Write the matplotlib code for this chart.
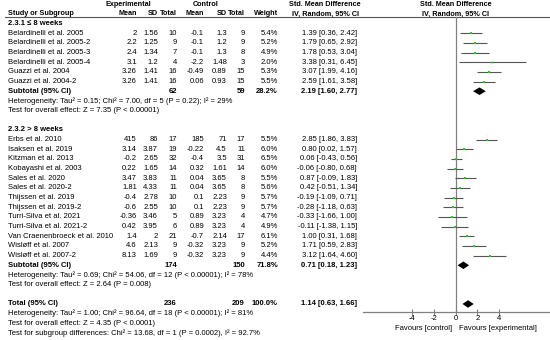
import matplotlib.pyplot as plt
from matplotlib.patches import Polygon

plt.rcParams["font.family"] = ["Liberation Sans", "DejaVu Sans"]
FS = 5.5
FS_HEAD = 5.2

# subgroup 1: <= 8 weeks
g1_names = ["Belardinelli et al. 2005", "Belardinelli et al. 2005-2", "Belardinelli et al. 2005-3",
            "Belardinelli et al. 2005-4", "Guazzi et al. 2004", "Guazzi et al. 2004-2"]
g1_exp_mean = ["2", "2.2", "2.4", "3.1", "3.26", "3.26"]
g1_exp_sd = ["1.56", "1.25", "1.34", "1.2", "1.41", "1.41"]
g1_exp_n = [10, 9, 7, 4, 16, 16]
g1_ctl_mean = ["-0.1", "-0.1", "-0.1", "-2.2", "-0.49", "0.06"]
g1_ctl_sd = ["1.3", "1.2", "1.3", "1.48", "0.89", "0.93"]
g1_ctl_n = [9, 9, 8, 3, 15, 15]
g1_weight = [5.4, 5.2, 4.9, 2.0, 5.3, 5.5]
g1_smd = [1.39, 1.79, 1.78, 3.38, 3.07, 2.59]
g1_lo = [0.36, 0.65, 0.53, 0.31, 1.99, 1.61]
g1_hi = [2.42, 2.92, 3.04, 6.45, 4.16, 3.58]

# subgroup 2: > 8 weeks
g2_names = ["Erbs et al. 2010", "Isaksen et al. 2019", "Kitzman et al. 2013", "Kobayashi et al. 2003",
            "Sales et al. 2020", "Sales et al. 2020-2", "Thijssen et al. 2019", "Thijssen et al. 2019-2",
            "Turri-Silva et al. 2021", "Turri-Silva et al. 2021-2", "Van Craenenbroeck et al. 2010",
            "Wisløff et al. 2007", "Wisløff et al. 2007-2"]
g2_exp_mean = ["415", "3.14", "-0.2", "0.22", "3.47", "1.81", "-0.4", "-0.6", "-0.36", "0.42", "1.4", "4.6", "8.13"]
g2_exp_sd = ["86", "3.87", "2.65", "1.65", "3.83", "4.33", "2.78", "2.55", "3.46", "3.95", "2", "2.13", "1.69"]
g2_exp_n = [17, 19, 32, 14, 11, 11, 10, 10, 5, 6, 21, 9, 9]
g2_ctl_mean = ["185", "-0.22", "-0.4", "0.32", "0.04", "0.04", "0.1", "0.1", "0.89", "0.89", "-0.7", "-0.32", "-0.32"]
g2_ctl_sd = ["71", "4.5", "3.5", "1.61", "3.65", "3.65", "2.23", "2.23", "3.23", "3.23", "2.14", "3.23", "3.23"]
g2_ctl_n = [17, 11, 31, 14, 8, 8, 9, 9, 4, 4, 17, 9, 9]
g2_weight = [5.5, 6.0, 6.5, 6.0, 5.5, 5.6, 5.7, 5.7, 4.7, 4.9, 6.1, 5.2, 4.4]
g2_smd = [2.85, 0.80, 0.06, -0.06, 0.87, 0.42, -0.19, -0.28, -0.33, -0.11, 1.00, 1.71, 3.12]
g2_lo = [1.86, 0.02, -0.43, -0.80, -0.09, -0.51, -1.09, -1.18, -1.66, -1.38, 0.31, 0.59, 1.64]
g2_hi = [3.83, 1.57, 0.56, 0.68, 1.83, 1.34, 0.71, 0.63, 1.00, 1.15, 1.68, 2.83, 4.60]

# pooled: subtotal 1, subtotal 2, total
pool_labels = ["Subtotal (95% CI)", "Subtotal (95% CI)", "Total (95% CI)"]
pool_exp_n = [62, 174, 236]
pool_ctl_n = [59, 150, 209]
pool_weight = [28.2, 71.8, 100.0]
pool_smd = [2.19, 0.71, 1.14]
pool_lo = [1.60, 0.18, 0.63]
pool_hi = [2.77, 1.23, 1.66]

group_titles = ["2.3.1 ≤ 8 weeks", "2.3.2 > 8 weeks"]
het_text = ["Heterogeneity: Tau² = 0.15; Chi² = 7.00, df = 5 (P = 0.22); I² = 29%",
            "Heterogeneity: Tau² = 0.69; Chi² = 54.06, df = 12 (P < 0.00001); I² = 78%",
            "Heterogeneity: Tau² = 1.00; Chi² = 96.64, df = 18 (P < 0.00001); I² = 81%"]
effect_text = ["Test for overall effect: Z = 7.35 (P < 0.00001)",
               "Test for overall effect: Z = 2.64 (P = 0.008)",
               "Test for overall effect: Z = 4.35 (P < 0.0001)"]
subgroup_text = "Test for subgroup differences: Chi² = 13.68, df = 1 (P = 0.0002), I² = 92.7%"
xticks = [-4, -2, 0, 2, 4]

# layout (pixels)
W, H = 550, 340
Y0, DY = 33.2, 9.67
col_x = [137, 158, 177, 204, 227, 245, 278, 357]
X_NAME = 8
F_LEFT = 363


def ry(row):
    return Y0 + DY * row


fig = plt.figure(figsize=(W / 100, H / 100), dpi=100)
ax = fig.add_axes([0, 0, 1, 1])
ax.set_xlim(0, W)
ax.set_ylim(H, 0)
ax.axis("off")

fax = fig.add_axes([F_LEFT / W, 0, (W - F_LEFT) / W, 1])
fax.set_xlim((F_LEFT - 455.7) / 10.85, (W - 455.7) / 10.85)
fax.set_ylim(H, 0)
fax.patch.set_alpha(0)
for s in ["top", "left", "right"]:
    fax.spines[s].set_visible(False)
fax.spines["bottom"].set_position(("data", 312))
fax.spines["bottom"].set_color("#808080")
fax.spines["bottom"].set_linewidth(0.9)
fax.set_yticks([])
fax.set_xticks(xticks)
fax.set_xticklabels([str(t) for t in xticks])
fax.tick_params(axis="x", direction="inout", length=4, width=0.8, color="#808080",
                labelsize=FS, pad=0.5)


def txt(x, y, s, ha="right", bold=False, size=FS):
    ax.text(x, y, s, ha=ha, va="center", fontsize=size,
            fontweight="bold" if bold else "normal")


# headers
txt(128, ry(-3), "Experimental", ha="center", bold=True, size=FS_HEAD)
txt(206, ry(-3), "Control", ha="center", bold=True, size=FS_HEAD)
txt(325, ry(-3), "Std. Mean Difference", ha="center", bold=True, size=FS_HEAD)
txt(456, ry(-3), "Std. Mean Difference", ha="center", bold=True, size=FS_HEAD)
txt(X_NAME, ry(-2), "Study or Subgroup", ha="left", bold=True, size=FS_HEAD)
for x, h in zip(col_x[:7], ["Mean", "SD", "Total", "Mean", "SD", "Total", "Weight"]):
    txt(x, ry(-2), h, bold=True, size=FS_HEAD)
txt(326, ry(-2), "IV, Random, 95% CI", ha="center", bold=True, size=FS_HEAD)
txt(456, ry(-2), "IV, Random, 95% CI", ha="center", bold=True, size=FS_HEAD)
ax.plot([5, W], [17, 17], color="#555555", lw=0.8)
fax.plot([0, 0], [17, 312], color="#808080", lw=0.9)


def diamond(row, est, lo, hi):
    y = ry(row)
    fax.add_patch(Polygon([(lo, y), (est, y - 3.8), (hi, y), (est, y + 3.8)],
                          closed=True, color="black", lw=0))


groups = [
    (g1_names, g1_exp_mean, g1_exp_sd, g1_exp_n, g1_ctl_mean, g1_ctl_sd, g1_ctl_n,
     g1_weight, g1_smd, g1_lo, g1_hi),
    (g2_names, g2_exp_mean, g2_exp_sd, g2_exp_n, g2_ctl_mean, g2_ctl_sd, g2_ctl_n,
     g2_weight, g2_smd, g2_lo, g2_hi),
]

row = -1
for gi, g in enumerate(groups):
    names, em, es, en, cm, cs, cn, wt, smd, lo, hi = g
    txt(X_NAME, ry(row), group_titles[gi], ha="left", bold=True)
    row += 1
    for i in range(len(names)):
        y = ry(row)
        txt(X_NAME, y, names[i], ha="left")
        vals = [em[i], es[i], en[i], cm[i], cs[i], cn[i], f"{wt[i]:.1f}%",
                f"{smd[i]:.2f} [{lo[i]:.2f}, {hi[i]:.2f}]"]
        for x, v in zip(col_x, vals):
            txt(x, y, str(v))
        fax.plot([lo[i], hi[i]], [y, y], color="#555555", lw=0.8, solid_capstyle="butt")
        fax.plot(smd[i], y, marker="s", ms=1.0 + wt[i] * 0.12, color="#22cc22", mew=0)
        row += 1
    y = ry(row)
    txt(X_NAME, y, pool_labels[gi], ha="left", bold=True)
    txt(col_x[2], y, str(pool_exp_n[gi]), bold=True)
    txt(col_x[5], y, str(pool_ctl_n[gi]), bold=True)
    txt(col_x[6], y, f"{pool_weight[gi]:.1f}%", bold=True)
    txt(col_x[7], y, f"{pool_smd[gi]:.2f} [{pool_lo[gi]:.2f}, {pool_hi[gi]:.2f}]", bold=True)
    diamond(row, pool_smd[gi], pool_lo[gi], pool_hi[gi])
    txt(X_NAME, ry(row + 1), het_text[gi], ha="left")
    txt(X_NAME, ry(row + 2), effect_text[gi], ha="left")
    row += 4

# overall total
y = ry(row)
txt(X_NAME, y, pool_labels[2], ha="left", bold=True)
txt(col_x[2], y, str(pool_exp_n[2]), bold=True)
txt(col_x[5], y, str(pool_ctl_n[2]), bold=True)
txt(col_x[6], y, f"{pool_weight[2]:.1f}%", bold=True)
txt(col_x[7], y, f"{pool_smd[2]:.2f} [{pool_lo[2]:.2f}, {pool_hi[2]:.2f}]", bold=True)
diamond(row, pool_smd[2], pool_lo[2], pool_hi[2])
txt(X_NAME, ry(row + 1), het_text[2], ha="left")
txt(X_NAME, ry(row + 2), effect_text[2], ha="left")
txt(X_NAME, ry(row + 3), subgroup_text, ha="left")

txt(452, 328.5, "Favours [control]")
txt(459, 328.5, "Favours [experimental]", ha="left")

fig.savefig("out.png", dpi=100)
